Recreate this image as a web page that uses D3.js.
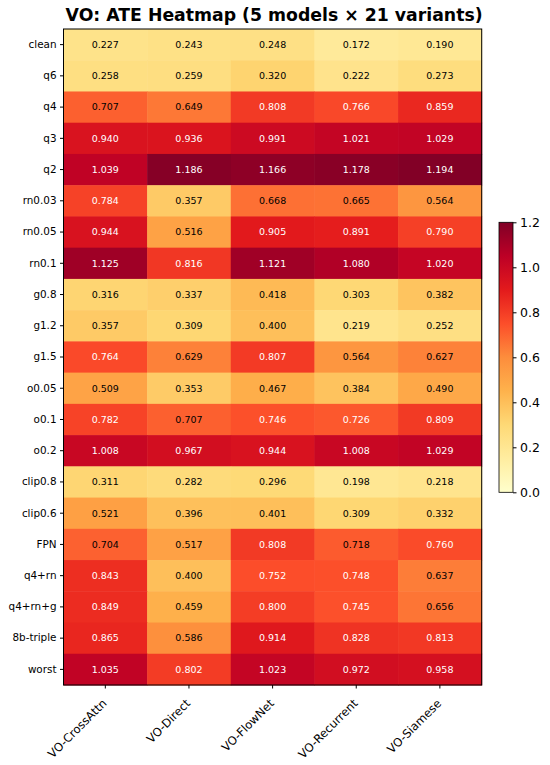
<!DOCTYPE html>
<html>
<head>
<meta charset="utf-8">
<script src="https://cdn.jsdelivr.net/npm/d3@7"></script>
<style>
  body { margin: 0; background: #fff; }
  text { font-family: "DejaVu Sans", sans-serif; }
</style>
</head>
<body>
<div id="chart"></div>
<script>
const models = ["VO-CrossAttn", "VO-Direct", "VO-FlowNet", "VO-Recurrent", "VO-Siamese"]
const variants = ["clean", "q6", "q4", "q3", "q2", "rn0.03", "rn0.05", "rn0.1", "g0.8", "g1.2", "g1.5",
    "o0.05", "o0.1", "o0.2", "clip0.8", "clip0.6", "FPN", "q4+rn", "q4+rn+g", "8b-triple", "worst"]

// one row per variant, columns in model order
const ate = [
    [0.227, 0.243, 0.248, 0.172, 0.190],
    [0.258, 0.259, 0.320, 0.222, 0.273],
    [0.707, 0.649, 0.808, 0.766, 0.859],
    [0.940, 0.936, 0.991, 1.021, 1.029],
    [1.039, 1.186, 1.166, 1.178, 1.194],
    [0.784, 0.357, 0.668, 0.665, 0.564],
    [0.944, 0.516, 0.905, 0.891, 0.790],
    [1.125, 0.816, 1.121, 1.080, 1.020],
    [0.316, 0.337, 0.418, 0.303, 0.382],
    [0.357, 0.309, 0.400, 0.219, 0.252],
    [0.764, 0.629, 0.807, 0.564, 0.627],
    [0.509, 0.353, 0.467, 0.384, 0.490],
    [0.782, 0.707, 0.746, 0.726, 0.809],
    [1.008, 0.967, 0.944, 1.008, 1.029],
    [0.311, 0.282, 0.296, 0.198, 0.218],
    [0.521, 0.396, 0.401, 0.309, 0.332],
    [0.704, 0.517, 0.808, 0.718, 0.760],
    [0.843, 0.400, 0.752, 0.748, 0.637],
    [0.849, 0.459, 0.800, 0.745, 0.656],
    [0.865, 0.586, 0.914, 0.828, 0.813],
    [1.035, 0.802, 1.023, 0.972, 0.958]
]

const colorTicks = [0.0, 0.2, 0.4, 0.6, 0.8, 1.0, 1.2]
const vmax = 1.2
const ylorrd = ["#ffffcc", "#ffeda0", "#fed976", "#feb24c", "#fd8d3c", "#fc4e2a", "#e31a1c", "#bd0026", "#800026"]

const svgWidth = 550, svgHeight = 765
const margin = {left: 63.5, top: 29, right: 68.3, bottom: 80}
const width = svgWidth - margin.left - margin.right
const height = svgHeight - margin.top - margin.bottom

let cells = []
variants.forEach((v, i) => models.forEach((m, j) => cells.push({variant: v, model: m, value: ate[i][j]})))

let svg = d3.select("#chart")
    .append("svg")
    .attr("width", svgWidth)
    .attr("height", svgHeight)

let chart = svg.append("g")
    .attr("transform", "translate(" + margin.left + "," + margin.top + ")")

let xScale = d3.scaleBand().domain(models).range([0, width])
let yScale = d3.scaleBand().domain(variants).range([0, height])

let colorScale = d3.scaleLinear()
    .domain(d3.range(ylorrd.length).map(i => i * vmax / (ylorrd.length - 1)))
    .range(ylorrd)
    .interpolate(d3.interpolateRgb)
    .clamp(true)

chart.append("g")
    .selectAll("rect")
    .data(cells)
    .join("rect")
    .attr("x", d => xScale(d.model))
    .attr("y", d => yScale(d.variant))
    .attr("width", xScale.bandwidth() + 0.5)
    .attr("height", yScale.bandwidth() + 0.5)
    .attr("fill", d => colorScale(d.value))

chart.append("g")
    .selectAll("text")
    .data(cells)
    .join("text")
    .attr("x", d => xScale(d.model) + xScale.bandwidth() / 2)
    .attr("y", d => yScale(d.variant) + yScale.bandwidth() / 2)
    .attr("dy", "0.35em")
    .attr("text-anchor", "middle")
    .attr("font-size", "9.5px")
    .attr("fill", d => d.value > 0.6 * vmax ? "white" : "black")
    .text(d => d.value.toFixed(3))

// frame
chart.append("rect")
    .attr("width", width)
    .attr("height", height)
    .attr("fill", "none")
    .attr("stroke", "black")
    .attr("stroke-width", 1)

let yAxis = chart.append("g")
    .call(d3.axisLeft(yScale).tickSize(3.5).tickPadding(3.5))
yAxis.select(".domain").remove()
yAxis.selectAll("text").attr("font-size", "10.4px").attr("fill", "black").attr("font-family", "DejaVu Sans")

let xAxis = chart.append("g")
    .attr("transform", `translate(0,${height})`)
    .call(d3.axisBottom(xScale).tickSize(3.5).tickPadding(3.5))
xAxis.select(".domain").remove()
xAxis.selectAll("text")
    .attr("font-size", "11.6px")
    .attr("fill", "black")
    .attr("font-family", "DejaVu Sans")
    .attr("text-anchor", "end")
    .attr("x", 0)
    .attr("y", 0)
    .attr("dy", "0.928em")
    .attr("transform", "translate(-5.5,11.5) rotate(-45)")

svg.append("text")
    .attr("x", margin.left + width / 2 + 1.5)
    .attr("y", 20.5)
    .attr("text-anchor", "middle")
    .attr("font-size", "17.3px")
    .attr("font-weight", "bold")
    .text("VO: ATE Heatmap (5 models × 21 variants)")

// colorbar
const cbX = 499, cbTop = 222.3, cbHeight = 270, cbWidth = 14
let cbScale = d3.scaleLinear().domain([0, vmax]).range([cbTop + cbHeight, cbTop])

let defs = svg.append("defs")
let grad = defs.append("linearGradient")
    .attr("id", "cbgrad")
    .attr("x1", 0).attr("y1", 1).attr("x2", 0).attr("y2", 0)
grad.selectAll("stop")
    .data(colorScale.domain())
    .join("stop")
    .attr("offset", d => d / vmax)
    .attr("stop-color", d => colorScale(d))

svg.append("rect")
    .attr("x", cbX)
    .attr("y", cbTop)
    .attr("width", cbWidth)
    .attr("height", cbHeight)
    .attr("fill", "url(#cbgrad)")
    .attr("stroke", "black")
    .attr("stroke-width", 0.8)

let cbAxis = svg.append("g")
    .attr("transform", `translate(${cbX + cbWidth},0)`)
    .call(d3.axisRight(cbScale).tickValues(colorTicks).tickFormat(d3.format(".1f")).tickSize(3.5).tickPadding(3.5))
cbAxis.select(".domain").remove()
cbAxis.selectAll("text").attr("font-size", "12.5px").attr("fill", "black").attr("font-family", "DejaVu Sans")
</script>
</body>
</html>
